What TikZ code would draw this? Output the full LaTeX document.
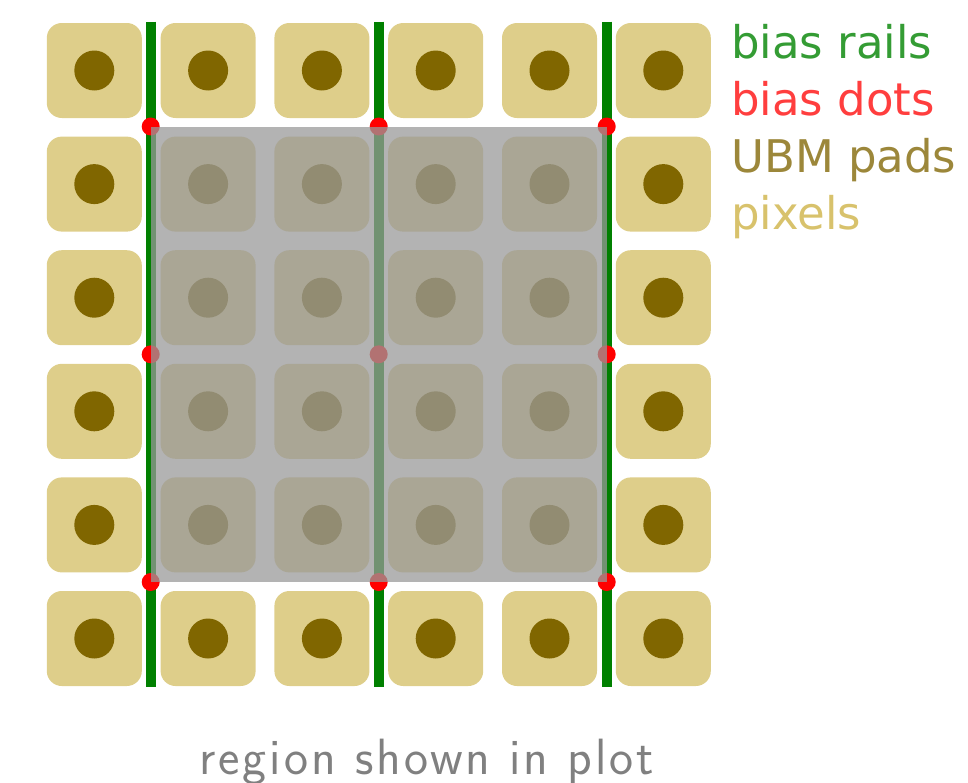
\documentclass[tikz,border=0pt]{standalone}
\usepackage{fontspec}
\newfontfamily\legendfont{DejaVu Sans}
\newfontfamily\captionfont[LetterSpace=6]{Latin Modern Sans}
\definecolor{pixtan}{RGB}{222,206,138}
\definecolor{padbrown}{RGB}{128,102,0}
\definecolor{railgreen}{RGB}{0,128,0}
\definecolor{dotred}{RGB}{255,0,0}
\definecolor{txtgreen}{RGB}{52,156,52}
\definecolor{txtred}{RGB}{255,62,62}
\definecolor{txtpad}{RGB}{156,135,58}
\definecolor{txtpix}{RGB}{216,194,108}
\definecolor{regiongray}{RGB}{153,153,153}
\definecolor{labelgray}{RGB}{128,128,128}
\tikzset{
  pixelbox/.style={fill=pixtan, draw=none, rounded corners=15pt, minimum width=95pt, minimum height=95pt, inner sep=0pt},
  ubmpad/.style={fill=padbrown, draw=none, circle, minimum size=40pt, inner sep=0pt},
  rail/.style={draw=railgreen, line width=10pt},
  biasdot/.style={fill=dotred, draw=none, circle, minimum size=18pt, inner sep=0pt},
  region/.style={fill=regiongray, fill opacity=0.75, draw=none},
  legendtext/.style={anchor=base west, inner sep=0pt, font=\legendfont\fontsize{45}{54}\selectfont},
}
\begin{document}
\begin{tikzpicture}[x=1pt,y=-1pt]
\useasboundingbox (0,0) rectangle (968,782);
% pixels and UBM pads
\foreach \i in {0,...,5}{
  \foreach \j in {0,...,5}{
    \node[pixelbox] (px-\i-\j) at ({94.3+113.8*\i},{70.5+113.6*\j}) {};
    \node[ubmpad] (pad-\i-\j) at (px-\i-\j.center) {};
  }
}
% rails
\foreach \k/\x in {1/150.7,2/378.7,3/606.7}{
  \coordinate (railtop-\k) at (\x,21.7);
  \coordinate (railbot-\k) at (\x,686.7);
  \draw[rail] (railtop-\k) -- (railbot-\k);
  \foreach \m/\y in {1/126.5,2/354.3,3/582}{
    \node[biasdot] (dot-\k-\m) at (\x,\y) {};
  }
}
% region shown in plot
\fill[region] (dot-1-1.center) rectangle (dot-3-3.center);
% legend
\node[legendtext, text=txtgreen] (leg1) at (731,58) {bias rails};
\node[legendtext, text=txtred] (leg2) at (731,115) {bias dots};
\node[legendtext, text=txtpad] (leg3) at (731,172) {UBM pads};
\node[legendtext, text=txtpix] (leg4) at (731,229) {pixels};
% caption
\node[anchor=base west, inner sep=0pt, text=labelgray, font=\captionfont\fontsize{51}{60}\selectfont] (caption) at (199,774) {region shown in plot};
\end{tikzpicture}
\end{document}
